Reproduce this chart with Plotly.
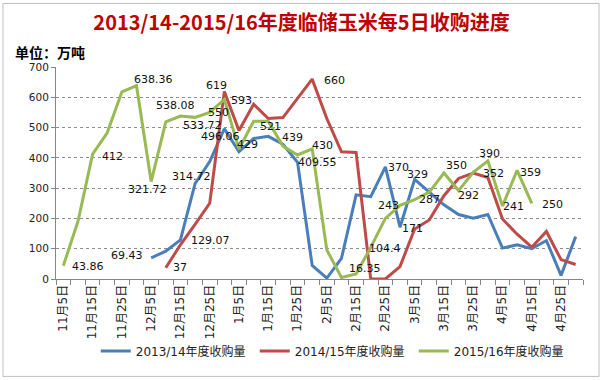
import plotly.graph_objects as go

categories = ["11月5日", "11月10日", "11月15日", "11月20日", "11月25日", "11月30日",
              "12月5日", "12月10日", "12月15日", "12月20日", "12月25日", "12月30日",
              "1月5日", "1月10日", "1月15日", "1月20日", "1月25日", "1月30日",
              "2月5日", "2月10日", "2月15日", "2月20日", "2月25日", "2月28日",
              "3月5日", "3月10日", "3月15日", "3月20日", "3月25日", "3月30日",
              "4月5日", "4月10日", "4月15日", "4月20日", "4月25日", "4月30日"]

series_names = ["2013/14年度收购量", "2014/15年度收购量", "2015/16年度收购量"]

s1314 = [None] * 6 + [69.43, 92, 129.07, 314.72, 388, 496.06, 420, 464, 471, 445, 385, 45, 3, 68,
                      278, 272, 370, 171, 329, 286, 245, 213, 201, 213, 102, 113, 100, 127, 12, 140]
s1415 = [None] * 7 + [37, 113, 180, 250, 619, 490, 577, 530, 533, 596, 660, 530, 420, 418, 0, 0,
                      41, 165, 195, 275, 332, 350, 335, 198, 148, 105, 157, 64, 48]
s1516 = [43.86, 190, 412, 483, 618, 638.36, 321.72, 519, 538.08, 533.72, 550, 593, 429, 521, 521,
         439, 409.55, 430, 96, 5, 16.35, 104.4, 200, 243, 262, 287, 350, 292, 352, 390, 241, 359,
         250] + [None] * 3

y_ticks = [0, 100, 200, 300, 400, 500, 600, 700]

colors = ["#4A7EBB", "#BE4B48", "#98B954"]
all_series = [s1314, s1415, s1516]

# data-label placement: (series index, point index, dx px, dy px downwards)
label_place = [
    (2, 0, 25, 1), (2, 2, 20, 2), (2, 5, 17, -6), (2, 6, -4, 8), (2, 8, -5, -11),
    (2, 9, 7, 8), (2, 10, 9, 0), (2, 11, 17, 1), (2, 12, 9, -5), (2, 13, 17, 5),
    (2, 15, 10, -9), (2, 16, 20, 8), (2, 17, 10, -3), (2, 20, 9, -6), (2, 21, 14, 1),
    (2, 23, -12, 0), (2, 25, 0, 7), (2, 26, 13, -8), (2, 27, 10, 5), (2, 28, 20, 1),
    (2, 29, 2, -7), (2, 30, 11, 0), (2, 31, 13, 2), (2, 32, 21, 1),
    (0, 6, -24, -2), (0, 8, 30, 1), (0, 9, -4, -7), (0, 11, -4, 8), (0, 22, 13, 1),
    (0, 23, 12, 1), (0, 24, 3, -5),
    (1, 7, 14, 0), (1, 11, -8, -6), (1, 17, 22, 1),
]

FONT = "DejaVu Sans, Noto Sans CJK SC, sans-serif"
xs = list(range(len(categories)))

fig = go.Figure()
for name, vals, col in zip(series_names, all_series, colors):
    fig.add_trace(go.Scatter(x=xs, y=vals, mode="lines", name=name,
                             line=dict(color=col, width=3), connectgaps=False))


def fmt(v):
    return str(int(v)) if float(v).is_integer() else ("%g" % v)


annotations = []
for si, pi, dx, dy in label_place:
    v = all_series[si][pi]
    annotations.append(dict(x=xs[pi], y=v, xref="x", yref="y", text=fmt(v), showarrow=False,
                            xanchor="center", yanchor="middle", xshift=dx, yshift=-dy,
                            font=dict(family=FONT, size=11, color="#111111")))

annotations.append(dict(x=-0.0816, y=1.072, xref="paper", yref="paper",
                        text="<b>单位：万吨</b>", showarrow=False, xanchor="left", yanchor="middle",
                        font=dict(family="Noto Sans CJK SC, sans-serif", size=14, color="#000000")))

fig.update_layout(
    width=603, height=380,
    margin=dict(l=56, r=20, t=67, b=101, autoexpand=False),
    paper_bgcolor="white", plot_bgcolor="white",
    title=dict(text="<b>2013/14-2015/16年度临储玉米每5日收购进度</b>", x=0.5, xanchor="center",
               y=1 - 23 / 380, yanchor="middle", yref="container",
               font=dict(family="Noto Sans CJK SC, sans-serif", size=20, color="#C00000")),
    showlegend=True,
    legend=dict(orientation="h", x=0.528, xanchor="center", y=-0.34, yanchor="middle",
                font=dict(family=FONT, size=12, color="#222222"),
                entrywidth=114, entrywidthmode="pixels", bgcolor="rgba(0,0,0,0)"),
    annotations=annotations,
    shapes=[dict(type="rect", xref="paper", yref="paper", x0=-0.1006, x1=1.0304, y0=-0.4595,
                 y1=1.2997, line=dict(color="#BFBFBF", width=1), fillcolor="rgba(0,0,0,0)",
                 layer="below")],
)

fig.update_xaxes(range=[-0.5, len(categories) - 0.5], tickmode="array", tickvals=xs[::2],
                 ticktext=categories[::2], tickangle=-90, ticks="", showgrid=False,
                 zeroline=False, showline=True, linecolor="#868686", linewidth=1, automargin=False,
                 tickfont=dict(family=FONT, size=12, color="#222222"),
                 minor=dict(ticks="outside", tick0=-0.5, dtick=1, ticklen=5,
                            tickcolor="#868686", showgrid=False))

fig.update_yaxes(range=[0, 700], tickmode="array", tickvals=y_ticks, ticks="outside",
                 ticklen=4, tickcolor="#868686", showline=True, linecolor="#868686",
                 linewidth=1, showgrid=True, gridcolor="#8C8C8C", griddash="dot", gridwidth=1,
                 zeroline=False, automargin=False,
                 tickfont=dict(family=FONT, size=10.5, color="#222222"))

fig.write_html("out.html", config={"displayModeBar": False},
               post_script="document.body.style.margin='0px';")
